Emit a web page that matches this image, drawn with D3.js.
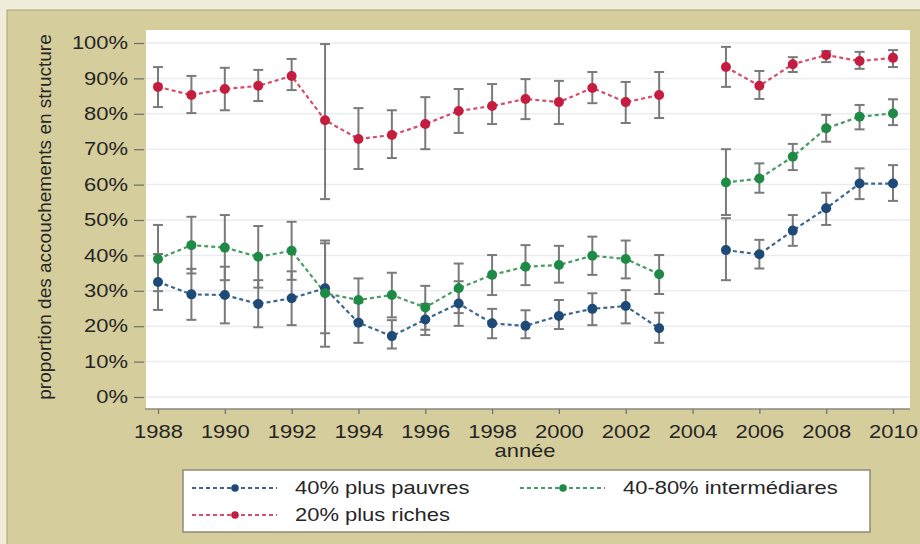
<!DOCTYPE html>
<meta charset="utf-8">
<style>
  body { margin: 0; background: #efecd9; }
  svg { display: block; font-family: "Liberation Sans", Arial, sans-serif; }
  .tick text { fill: #262626; font-size: 18px; }
  .tick line { stroke: #6e6e6e; stroke-width: 1.2px; }
</style>
<svg width="920" height="544"></svg>
<script src="https://d3js.org/d3.v7.min.js"></script>
<script>

// values, 2004 has no survey
var years = [1988, 1989, 1990, 1991, 1992, 1993, 1994, 1995, 1996, 1997, 1998, 1999,
             2000, 2001, 2002, 2003, 2004, 2005, 2006, 2007, 2008, 2009, 2010];

var poor   = [32.5, 29.0, 28.8, 26.3, 27.9, 30.7, 21.0, 17.2, 21.9, 26.4, 20.8, 20.1, 22.9, 24.9, 25.7, 19.4, null, 41.5, 40.3, 47.0, 53.3, 60.3, 60.3];
var poorLo = [24.6, 21.8, 20.8, 19.7, 20.3, 18.0, 15.3, 13.7, 17.5, 20.1, 16.6, 16.6, 19.2, 20.3, 20.8, 15.3, null, 33.0, 36.3, 42.7, 48.6, 55.9, 55.4];
var poorHi = [40.4, 36.2, 36.8, 33.0, 35.5, 43.4, 26.7, 21.7, 26.3, 32.7, 24.9, 24.5, 27.4, 29.3, 30.2, 23.8, null, 50.5, 44.4, 51.4, 57.7, 64.6, 65.5];

var mid   = [39.0, 42.9, 42.2, 39.6, 41.3, 29.3, 27.4, 28.8, 25.3, 30.7, 34.5, 36.8, 37.3, 39.9, 39.0, 34.7, null, 60.6, 61.7, 67.9, 75.9, 79.2, 80.1];
var midLo = [29.9, 34.9, 33.0, 30.9, 33.1, 14.2, 21.3, 22.5, 19.0, 23.7, 28.8, 31.6, 32.3, 34.5, 33.5, 29.1, null, 51.4, 57.7, 64.1, 72.1, 75.6, 76.8];
var midHi = [48.6, 50.9, 51.4, 48.3, 49.5, 44.2, 33.5, 35.1, 31.4, 37.7, 40.1, 42.9, 42.7, 45.3, 44.2, 40.1, null, 70.0, 66.0, 71.5, 79.7, 82.5, 84.1];

var rich   = [87.6, 85.3, 87.0, 87.9, 90.7, 78.2, 72.9, 74.0, 77.1, 80.8, 82.2, 84.2, 83.3, 87.3, 83.3, 85.3, null, 93.2, 87.9, 94.0, 96.6, 94.9, 95.8];
var richLo = [81.9, 80.2, 81.0, 83.6, 86.7, 55.9, 64.4, 67.5, 70.0, 74.6, 77.1, 78.5, 77.1, 83.0, 77.4, 78.8, null, 87.6, 84.2, 91.8, 94.6, 92.7, 93.2];
var richHi = [93.2, 90.7, 93.0, 92.4, 95.5, 99.7, 81.6, 81.0, 84.7, 87.0, 88.4, 89.8, 89.3, 91.8, 89.0, 91.8, null, 98.9, 92.1, 96.0, 97.7, 97.5, 98.0];

var yTicks = [0, 10, 20, 30, 40, 50, 60, 70, 80, 90, 100];
var xTicks = [1988, 1990, 1992, 1994, 1996, 1998, 2000, 2002, 2004, 2006, 2008, 2010];

var series = [
    { name: "40% plus pauvres", v: poor, lo: poorLo, hi: poorHi, col: "#1d4a76", line: "#3d6690" },
    { name: "40-80% intermédiares", v: mid, lo: midLo, hi: midHi, col: "#1e8a45", line: "#4a9a66" },
    { name: "20% plus riches", v: rich, lo: richLo, hi: richHi, col: "#c41d3f", line: "#d4506a" }
];

var svg = d3.select("svg");
var sx = 1.22; // text looks stretched sideways in the original

// frame
svg.append("rect").attr("x", 7).attr("y", 10).attr("width", 920).attr("height", 540)
    .attr("fill", "#d5cd9b").attr("stroke", "#a9a27a").attr("stroke-width", 1);

var plot = { left: 146, right: 910, top: 30, bottom: 409 };

svg.append("rect").attr("x", plot.left).attr("y", plot.top)
    .attr("width", plot.right - plot.left).attr("height", plot.bottom - plot.top)
    .attr("fill", "#fff");

var x = d3.scaleLinear().domain([1988, 2010]).range([158, 893]);
var y = d3.scaleLinear().domain([0, 100]).range([397, 43]);

// grid
svg.append("g").selectAll("line").data(yTicks).join("line")
    .attr("x1", plot.left).attr("x2", plot.right)
    .attr("y1", d => y(d)).attr("y2", d => y(d))
    .attr("stroke", "#e9edf0").attr("stroke-width", 1.5);

// axes
var yAxis = svg.append("g").attr("transform", "translate(144,0)")
    .call(d3.axisLeft(y).tickValues(yTicks).tickFormat(d => d + "%").tickSize(10).tickPadding(6));
yAxis.select(".domain").remove();
yAxis.selectAll(".tick text").attr("transform", "scale(" + sx + ",1)")
    .attr("x", -16 / sx);

svg.append("line").attr("x1", plot.left - 1).attr("x2", plot.right)
    .attr("y1", plot.bottom).attr("y2", plot.bottom)
    .attr("stroke", "#8a8a80").attr("stroke-width", 1.5);

var xAxis = svg.append("g").attr("transform", "translate(0," + plot.bottom + ")")
    .call(d3.axisBottom(x).tickValues(xTicks).tickFormat(d3.format("d")).tickSize(5).tickPadding(11));
xAxis.select(".domain").remove();
xAxis.selectAll(".tick text").attr("transform", "scale(" + sx + ",1)");

svg.append("text").attr("transform", "translate(" + 525 + ",457) scale(" + sx + ",1)")
    .attr("text-anchor", "middle").attr("font-size", 18).attr("fill", "#262626")
    .text("année");

svg.append("text").attr("transform", "translate(51,217) rotate(-90)")
    .attr("text-anchor", "middle").attr("font-size", 19).attr("fill", "#262626")
    .text("proportion des accouchements en structure");

// error bars
var cap = 5;
series.forEach(function (s) {
    var g = svg.append("g").attr("stroke", "#7a7a7a").attr("stroke-width", 2);
    years.forEach(function (yr, i) {
        if (s.v[i] == null) return;
        var cx = x(yr);
        g.append("line").attr("x1", cx).attr("x2", cx).attr("y1", y(s.lo[i])).attr("y2", y(s.hi[i]));
        g.append("line").attr("x1", cx - cap).attr("x2", cx + cap).attr("y1", y(s.lo[i])).attr("y2", y(s.lo[i]));
        g.append("line").attr("x1", cx - cap).attr("x2", cx + cap).attr("y1", y(s.hi[i])).attr("y2", y(s.hi[i]));
    });
});

var line = d3.line()
    .defined(d => d[1] != null)
    .x(d => x(d[0]))
    .y(d => y(d[1]));

series.forEach(function (s) {
    var pts = years.map((yr, i) => [yr, s.v[i]]);
    svg.append("path").datum(pts).attr("d", line)
        .attr("fill", "none").attr("stroke", s.line).attr("stroke-width", 2.2)
        .attr("stroke-dasharray", "4,3");
});

series.forEach(function (s) {
    var pts = years.map((yr, i) => [yr, s.v[i]]).filter(d => d[1] != null);
    svg.append("g").selectAll("circle").data(pts).join("circle")
        .attr("cx", d => x(d[0])).attr("cy", d => y(d[1])).attr("r", 5)
        .attr("fill", s.col);
});

// legend
svg.append("rect").attr("x", 183).attr("y", 470).attr("width", 687).attr("height", 62)
    .attr("fill", "#fff").attr("stroke", "#8c8a78").attr("stroke-width", 1.5);

var legPos = [[192, 488], [520, 488], [192, 515]];
series.forEach(function (s, i) {
    var p = legPos[i];
    var lg = svg.append("g").attr("transform", "translate(" + p[0] + "," + p[1] + ")");
    lg.append("line").attr("x1", 0).attr("x2", 85).attr("stroke", s.line)
        .attr("stroke-width", 2).attr("stroke-dasharray", "4,3");
    lg.append("circle").attr("cx", 43).attr("r", 3.8).attr("fill", s.col);
    lg.append("text").attr("transform", "translate(103,6) scale(" + sx + ",1)")
        .attr("font-size", 18).attr("fill", "#262626").text(s.name);
});

</script>
